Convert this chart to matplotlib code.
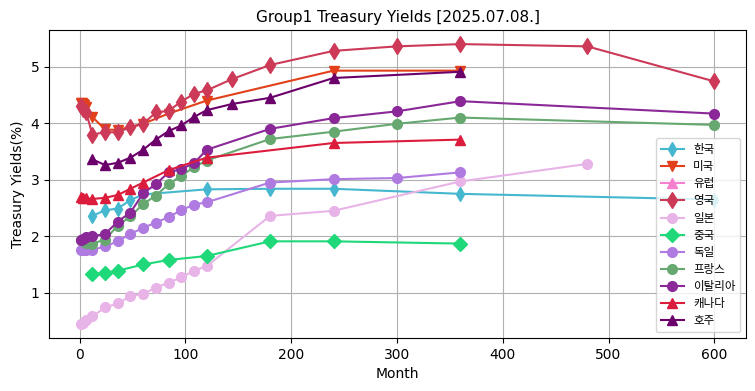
import matplotlib
matplotlib.use("Agg")
import matplotlib.pyplot as plt

plt.rcParams['font.family'] = ['DejaVu Sans', 'Noto Sans CJK KR']

title = "Group1 Treasury Yields [2025.07.08.]"

kr_m = [12, 24, 36, 48, 60, 120, 180, 240, 360, 600]
kr_y = [2.36, 2.46, 2.49, 2.64, 2.74, 2.83, 2.84, 2.84, 2.75, 2.65]

us_m = [1, 2, 3, 4, 6, 12, 24, 36, 60, 84, 120, 240, 360]
us_y = [4.36, 4.35, 4.34, 4.33, 4.28, 4.11, 3.89, 3.88, 3.99, 4.17, 4.40, 4.93, 4.93]

eu_m = []
eu_y = []

uk_m = [1, 3, 6, 12, 24, 36, 48, 60, 72, 84, 96, 108, 120, 144, 180, 240, 300, 360, 480, 600]
uk_y = [4.30, 4.26, 4.20, 3.80, 3.84, 3.84, 3.93, 3.99, 4.19, 4.22, 4.38, 4.52, 4.58, 4.78, 5.03, 5.28, 5.36, 5.40, 5.36, 4.74]

jp_m = [1, 3, 6, 12, 24, 36, 48, 60, 72, 84, 96, 108, 120, 180, 240, 360, 480]
jp_y = [0.45, 0.46, 0.52, 0.58, 0.74, 0.81, 0.94, 0.98, 1.09, 1.18, 1.27, 1.39, 1.47, 2.36, 2.45, 2.97, 3.28]

cn_m = [12, 24, 36, 60, 84, 120, 180, 240, 360]
cn_y = [1.34, 1.35, 1.39, 1.50, 1.58, 1.65, 1.91, 1.91, 1.87]

de_m = [1, 3, 6, 12, 24, 36, 48, 60, 72, 84, 96, 108, 120, 180, 240, 300, 360]
de_y = [1.76, 1.76, 1.76, 1.76, 1.82, 1.91, 2.04, 2.15, 2.24, 2.34, 2.46, 2.56, 2.60, 2.95, 3.01, 3.03, 3.13]

fr_m = [1, 3, 6, 12, 24, 36, 48, 60, 72, 84, 96, 108, 120, 180, 240, 300, 360, 600]
fr_y = [1.93, 1.92, 1.88, 1.87, 1.94, 2.19, 2.35, 2.57, 2.72, 2.92, 3.07, 3.22, 3.34, 3.72, 3.85, 3.99, 4.10, 3.97]

it_m = [1, 3, 6, 12, 24, 36, 48, 60, 72, 84, 96, 108, 120, 180, 240, 300, 360, 600]
it_y = [1.94, 1.96, 1.98, 2.00, 2.04, 2.26, 2.42, 2.76, 2.92, 3.13, 3.19, 3.29, 3.53, 3.90, 4.09, 4.21, 4.39, 4.17]

ca_m = [1, 3, 6, 12, 24, 36, 48, 60, 84, 120, 240, 360]
ca_y = [2.70, 2.68, 2.67, 2.66, 2.68, 2.73, 2.84, 2.95, 3.17, 3.39, 3.65, 3.71]

au_m = [12, 24, 36, 48, 60, 72, 84, 96, 108, 120, 144, 180, 240, 360]
au_y = [3.36, 3.26, 3.30, 3.39, 3.53, 3.71, 3.86, 3.96, 4.11, 4.23, 4.34, 4.45, 4.80, 4.91]

series = [
    ("한국", kr_m, kr_y, "#45b7cf", "d", 7),
    ("미국", us_m, us_y, "#e2401b", "v", 7),
    ("유럽", eu_m, eu_y, "#f77fcf", "^", 7),
    ("영국", uk_m, uk_y, "#cc3a58", "d", 8),
    ("일본", jp_m, jp_y, "#e8b4e8", "o", 7),
    ("중국", cn_m, cn_y, "#1ed87a", "D", 7),
    ("독일", de_m, de_y, "#b07be0", "o", 7),
    ("프랑스", fr_m, fr_y, "#66a870", "o", 7),
    ("이탈리아", it_m, it_y, "#8a2898", "o", 7),
    ("캐나다", ca_m, ca_y, "#dc1c3c", "^", 7),
    ("호주", au_m, au_y, "#6b006b", "^", 7),
]

fig = plt.figure(figsize=(7.55, 3.91), dpi=100)
ax = fig.add_subplot(111)
fig.subplots_adjust(left=0.065, right=0.988, top=0.923, bottom=0.136)

for name, m, y, c, mk, ms in series:
    ax.plot(m, y, color=c, marker=mk, markersize=ms, linewidth=1.5, label=name)

ax.grid(True, color="#b0b0b0", linewidth=0.8)
ax.set_axisbelow(True)
ax.set_title(title, fontsize=11)
ax.set_xlabel("Month", fontsize=10)
ax.set_ylabel("Treasury Yields(%)", fontsize=10)
ax.set_xticks([0, 100, 200, 300, 400, 500, 600])
ax.set_yticks([1, 2, 3, 4, 5])
leg = ax.legend(loc="lower right", prop={'family': ['Noto Sans CJK KR', 'DejaVu Sans'], 'size': 8.3},
                labelspacing=0.36)

fig.savefig("out.png", dpi=100)
